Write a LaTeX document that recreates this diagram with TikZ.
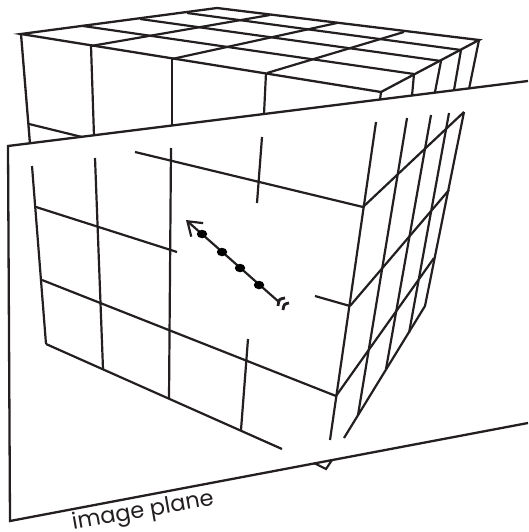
\documentclass[tikz,border=0pt]{standalone}
\usepackage{fontspec}
\newfontfamily\labelfont{Poppins}
\definecolor{planeink}{RGB}{35, 31, 32}
\usetikzlibrary{arrows.meta, positioning, shapes.geometric}
\begin{document}
\begin{tikzpicture}[
            x=1pt, y=-1pt,
            edge/.style={line width=2.3pt, draw=planeink, line join=miter},
            grid/.style={line width=2.2pt, draw=planeink},
            dot/.style={ellipse, fill=black, inner sep=0pt, minimum width=10.5pt, minimum height=8.5pt},
            feather/.style={line width=2.8pt, draw=planeink},
            ray/.style={line width=2.2pt, draw=planeink, -{Straight Barb[length=13pt,width=18pt,line width=2.2pt]}},
            planelabel/.style={font=\labelfont\fontsize{22.5}{22.5}\selectfont, text=planeink, rotate=10, inner sep=0pt}
        ]
            \useasboundingbox (0,0) rectangle (528,532);

            % Top of the cube
            \draw [edge] (21,34) -- (217,8) -- (479,40) -- (381,92) -- cycle;
            \draw [grid] (83,26) -- (414,74);
            \draw [grid] (140,19) -- (441,61);
            \draw [grid] (187,13) -- (461,50);
            \draw [grid] (91,46) -- (270,15);
            \draw [grid] (172,59) -- (337,23);
            \draw [grid] (267,73) -- (404,32);

            % Cube above the plane
            \draw [edge] (21,34) -- (30,144);
            \draw [grid] (91,46) -- (94,136);
            \draw [grid] (172,59) -- (172,126);
            \draw [grid] (266,73) -- (264,114);
            \draw [grid] (381,92) -- (380,100);
            \draw [grid] (414,74) -- (412,96);
            \draw [grid] (441,61) -- (435,92);
            \draw [grid] (461,50) -- (454,90);
            \draw [grid] (479,40) -- (469,89);
            \draw [grid] (29,124) -- (82,137);

            % Image plane
            \draw [edge] (528,81) -- (8,146) -- (10,521) -- (528,423);
            \draw [grid] (314,463) -- (326,469) -- (332,460);

            % Left face
            \draw [grid] (32,166) -- (46,344);
            \draw [grid] (95,158) -- (103,369);
            \draw [grid] (171,148) -- (169,399);
            \draw [grid] (262,137) -- (257,203);
            \draw [grid] (248,339) -- (241,430);
            \draw [grid] (135,152) -- (363,207);
            \draw [grid] (36,207) -- (177,252);
            \draw [grid] (315,296) -- (350,306);
            \draw [grid] (42,280) -- (336,396);
            \draw [grid] (46,344) -- (282,449);

            % Right face
            \draw [grid] (376,122) -- (330,440);
            \draw [grid] (407,118) -- (358,415);
            \draw [grid] (431,115) -- (386,369);
            \draw [grid] (449,113) -- (409,333);
            \draw [grid] (464,112) -- (425,306) -- (344,438);
            \draw [grid] (363,207) -- (464,112);
            \draw [grid] (350,306) -- (449,190);
            \draw [grid] (336,396) -- (434,258);

            % Ray
            \coordinate (tail) at (279,302);
            \coordinate (head) at (186,220);
            \draw [ray] (tail) -- (head);
            \draw [feather] (285,298) .. controls (279,299) .. (278,306);
            \draw [feather] (289,303) .. controls (284,304) .. (283,310);
            \node (p1) [dot] at (202,234) {};
            \node (p2) [dot] at (222,252) {};
            \node (p3) [dot] at (240,268) {};
            \node (p4) [dot] at (259,285) {};

            \node (label) [planelabel] at (143,512) {image plane};
        \end{tikzpicture}
\end{document}
